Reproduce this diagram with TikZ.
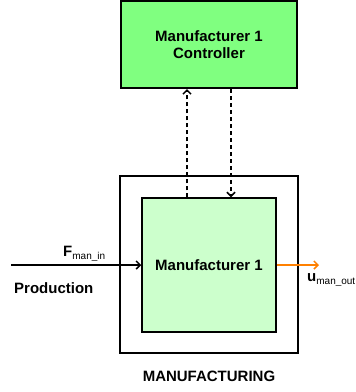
\documentclass[tikz,border=0pt]{standalone}
\usepackage{fontspec}
\setmainfont{Liberation Sans}
\usetikzlibrary{arrows.meta}
\definecolor{ctrlgreen}{HTML}{80FF80}
\definecolor{lightgreen}{HTML}{CCFFCC}
\definecolor{outorange}{HTML}{FF8000}
\newcommand{\subtxt}[1]{\raisebox{-3.5pt}{\fontsize{10}{12}\selectfont\mdseries #1}}
\tikzset{
  box/.style={draw=black, rectangle, inner sep=0pt, font=\fontsize{15}{17}\selectfont\bfseries, align=center},
  lbl/.style={inner sep=0pt, font=\fontsize{15}{17}\selectfont\bfseries},
  sig/.style={line width=2pt, -{Straight Barb[length=4pt,width=8pt,line width=1.5pt]}},
  ctl/.style={sig, dash pattern=on 4pt off 3pt}
}
\begin{document}
\begin{tikzpicture}[x=1pt,y=-1pt]
\useasboundingbox (0,0) rectangle (356,392);
\node[box, line width=2pt, fill=ctrlgreen, minimum width=176pt, minimum height=87pt] (ctrl) at (209,44.5) {Manufacturer 1\\Controller};
\node[box, line width=1.3pt, minimum width=178pt, minimum height=177pt] (outer) at (209,264.5) {};
\node[box, line width=1.5pt, fill=lightgreen, minimum width=134pt, minimum height=134pt] (inner) at (209,265) {Manufacturer 1};
\coordinate (lx) at (187,0);
\coordinate (rx) at (231,0);
\draw[ctl] (inner.north -| lx) -- (ctrl.south -| lx);
\draw[ctl] (ctrl.south -| rx) -- (inner.north -| rx);
\coordinate (src) at (11,265);
\coordinate (dst) at (319,265);
\draw[sig] (src) -- (inner.west);
\draw[sig, draw=outorange] (inner.east) -- (dst);
\node[lbl, anchor=base west] (fin) at (63,256) {F\subtxt{man\_in}};
\node[lbl, anchor=base west] (prod) at (14,293) {Production};
\node[lbl, anchor=base west] (uout) at (307,281) {u\subtxt{man\_out}};
\node[lbl, anchor=base] (manu) at (209,381) {MANUFACTURING};
\end{tikzpicture}
\end{document}
